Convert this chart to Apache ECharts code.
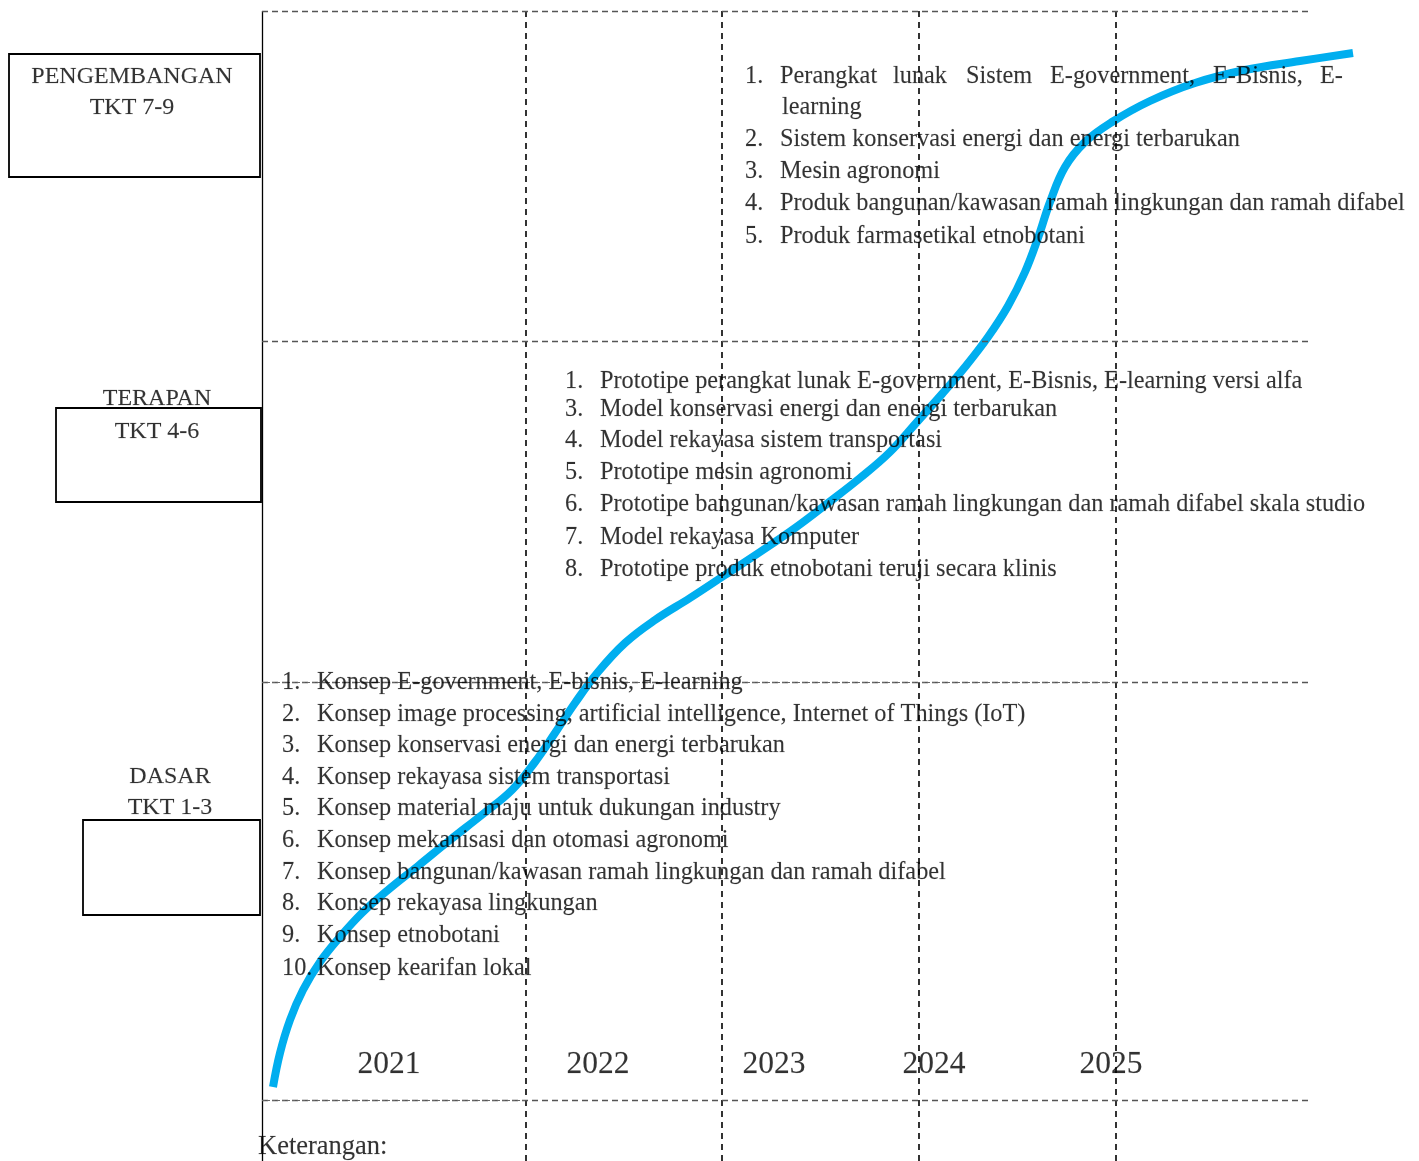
<!DOCTYPE html>
<html>
<head>
<meta charset="utf-8">
<script src="https://cdn.jsdelivr.net/npm/echarts@6/dist/echarts.min.js"></script>
<style>
html,body{margin:0;padding:0;background:#fff;}
#chart{width:1419px;height:1161px;}
</style>
</head>
<body>
<div id="chart"></div>
<script>
// ---------------- DATA ----------------
const years = ['2021', '2022', '2023', '2024', '2025'];
const levelNames = ['PENGEMBANGAN', 'TERAPAN', 'DASAR'];
const levelTkt = ['TKT 7-9', 'TKT 4-6', 'TKT 1-3'];

const listPengembanganNums = ['1.', '', '2.', '3.', '4.', '5.'];
const listPengembanganFirstWords = ['Perangkat', 'lunak', 'Sistem', 'E-government,', 'E-Bisnis,', 'E-'];
const listPengembangan = ['', 'learning', 'Sistem konservasi energi dan energi terbarukan', 'Mesin agronomi',
  'Produk bangunan/kawasan ramah lingkungan dan ramah difabel', 'Produk farmasetikal etnobotani'];

const listTerapanNums = ['1.', '3.', '4.', '5.', '6.', '7.', '8.'];
const listTerapan = [
  'Prototipe perangkat lunak E-government, E-Bisnis, E-learning versi alfa',
  'Model konservasi energi dan energi terbarukan',
  'Model rekayasa sistem transportasi',
  'Prototipe mesin agronomi',
  'Prototipe bangunan/kawasan ramah lingkungan dan ramah difabel skala studio',
  'Model rekayasa Komputer',
  'Prototipe produk etnobotani teruji secara klinis'
];

const listDasarNums = ['1.', '2.', '3.', '4.', '5.', '6.', '7.', '8.', '9.', '10.'];
const listDasar = [
  'Konsep E-government, E-bisnis, E-learning',
  'Konsep image processing, artificial intelligence, Internet of Things (IoT)',
  'Konsep konservasi energi dan energi terbarukan',
  'Konsep rekayasa sistem transportasi',
  'Konsep material maju untuk dukungan industry',
  'Konsep mekanisasi dan otomasi agronomi',
  'Konsep bangunan/kawasan ramah lingkungan dan ramah difabel',
  'Konsep rekayasa lingkungan',
  'Konsep etnobotani',
  'Konsep kearifan lokal'
];
const footerText = 'Keterangan:';

// growth curve (diagram units)
const curveX = [273, 280, 290, 303, 320, 340, 362, 388, 418, 450, 483, 512, 535, 555, 575, 598, 625, 655, 690, 725, 760, 795, 828, 860, 890, 917, 942, 965, 988, 1008, 1025, 1038, 1050, 1065, 1085, 1112, 1150, 1195, 1245, 1300, 1353];
const curveY = [1087, 1053, 1020, 990, 962, 937, 913, 890, 866, 840, 814, 790, 762, 733, 703, 672, 643, 620, 598, 575, 552, 528, 503, 478, 452, 422, 394, 367, 337, 306, 272, 238, 202, 167, 142, 122, 101, 83, 70, 61, 53];

// ---------------- LAYOUT ----------------
const FONT = '"Liberation Serif", "Times New Roman", serif';
const W = 1419, H = 1161;
const axisLeft = 262, gridRight = 1310;
const vDashX = [526, 722, 919, 1116];
const hDashY = [11, 341, 682, 1100];
const boxes = [[9, 54, 260, 177], [56, 408, 261, 502], [83, 820, 260, 915]];
const levelNameY = [77, 399, 777];
const levelTktY = [108, 432, 808];
const levelCX = [132, 157, 170];
const yearCX = [389, 598, 774, 934, 1111];
const yearY = 1064.5;
const topWordsX = [780, 893, 966, 1050, 1213, 1320];
const topY = [77, 108, 140, 172, 204, 237];
const midY = [382, 410, 441, 473, 505, 538, 570];
const botY = [683, 715, 746, 778, 809, 841, 873, 904, 936, 969];
const LIST_FS = 24.3;

const texts = [];
function addText(x, y, t, size, align) {
  if (!t) return;
  texts.push({
    value: [x, y],
    label: {
      show: true, formatter: t, fontFamily: FONT, fontSize: size, color: '#000',
      textBorderColor: 'rgba(0,0,0,0.35)', textBorderWidth: 0.3,
      position: align === 'center' ? 'inside' : 'right', distance: 0,
      align: align === 'center' ? 'center' : 'left', verticalAlign: 'middle'
    }
  });
}
for (let i = 0; i < 3; i++) {
  addText(levelCX[i], levelNameY[i], levelNames[i], 24, 'center');
  addText(levelCX[i], levelTktY[i], levelTkt[i], 24, 'center');
}
years.forEach((y, i) => addText(yearCX[i], yearY, y, 31.5, 'center'));
listPengembanganNums.forEach((n, i) => addText(745, topY[i], n, LIST_FS));
listPengembanganFirstWords.forEach((w, i) => addText(topWordsX[i], topY[0], w, LIST_FS));
listPengembangan.forEach((t, i) => addText(i === 1 ? 782 : 780, topY[i], t, LIST_FS));
listTerapanNums.forEach((n, i) => addText(565, midY[i], n, LIST_FS));
listTerapan.forEach((t, i) => addText(600, midY[i], t, LIST_FS));
listDasarNums.forEach((n, i) => addText(282, botY[i], n, LIST_FS));
listDasar.forEach((t, i) => addText(317, botY[i], t, LIST_FS));
addText(258, 1147, footerText, 26.5);

const markLines = [];
markLines.push([{ coord: [axisLeft, hDashY[0]], lineStyle: { type: 'solid', color: '#000', width: 1.3 } }, { coord: [axisLeft, H] }]);
vDashX.forEach(x => markLines.push([{ coord: [x, hDashY[0]], lineStyle: { type: [6, 5], color: '#000', width: 1.6 } }, { coord: [x, H] }]));
hDashY.forEach(y => markLines.push([{ coord: [axisLeft, y], lineStyle: { type: [6, 4], color: '#555', width: 1.3 } }, { coord: [gridRight, y] }]));
// denser overlapping segments seen in the picture
markLines.push([{ coord: [axisLeft, hDashY[2]], lineStyle: { type: [3, 2], color: '#666', width: 1.2 } }, { coord: [vDashX[3], hDashY[2]] }]);
markLines.push([{ coord: [axisLeft, hDashY[3]], lineStyle: { type: [3, 2], color: '#666', width: 1.2 } }, { coord: [vDashX[0], hDashY[3]] }]);

const markAreas = boxes.map(b => [{ coord: [b[0], b[1]] }, { coord: [b[2], b[3]] }]);

const curveData = curveX.map((x, i) => [x, curveY[i]]);

const chart = echarts.init(document.getElementById('chart'), null, { renderer: 'canvas' });
chart.setOption({
  animation: false,
  backgroundColor: '#fff',
  grid: { left: 0, right: 0, top: 0, bottom: 0 },
  xAxis: { type: 'value', min: 0, max: W, show: false },
  yAxis: { type: 'value', min: 0, max: H, inverse: true, show: false },
  series: [
    {
      type: 'line', data: [], silent: true,
      markLine: { silent: true, symbol: ['none', 'none'], label: { show: false }, data: markLines },
      markArea: { silent: true, itemStyle: { color: 'rgba(0,0,0,0)', borderColor: '#000', borderWidth: 1.8 }, data: markAreas }
    },
    {
      type: 'line', data: curveData, smooth: 0.4, showSymbol: false, silent: true, z: 3,
      lineStyle: { color: '#00AEEF', width: 8, cap: 'butt', join: 'round' }
    },
    {
      type: 'scatter', data: texts, symbolSize: 0, silent: true, z: 5
    }
  ]
});
</script>
</body>
</html>
